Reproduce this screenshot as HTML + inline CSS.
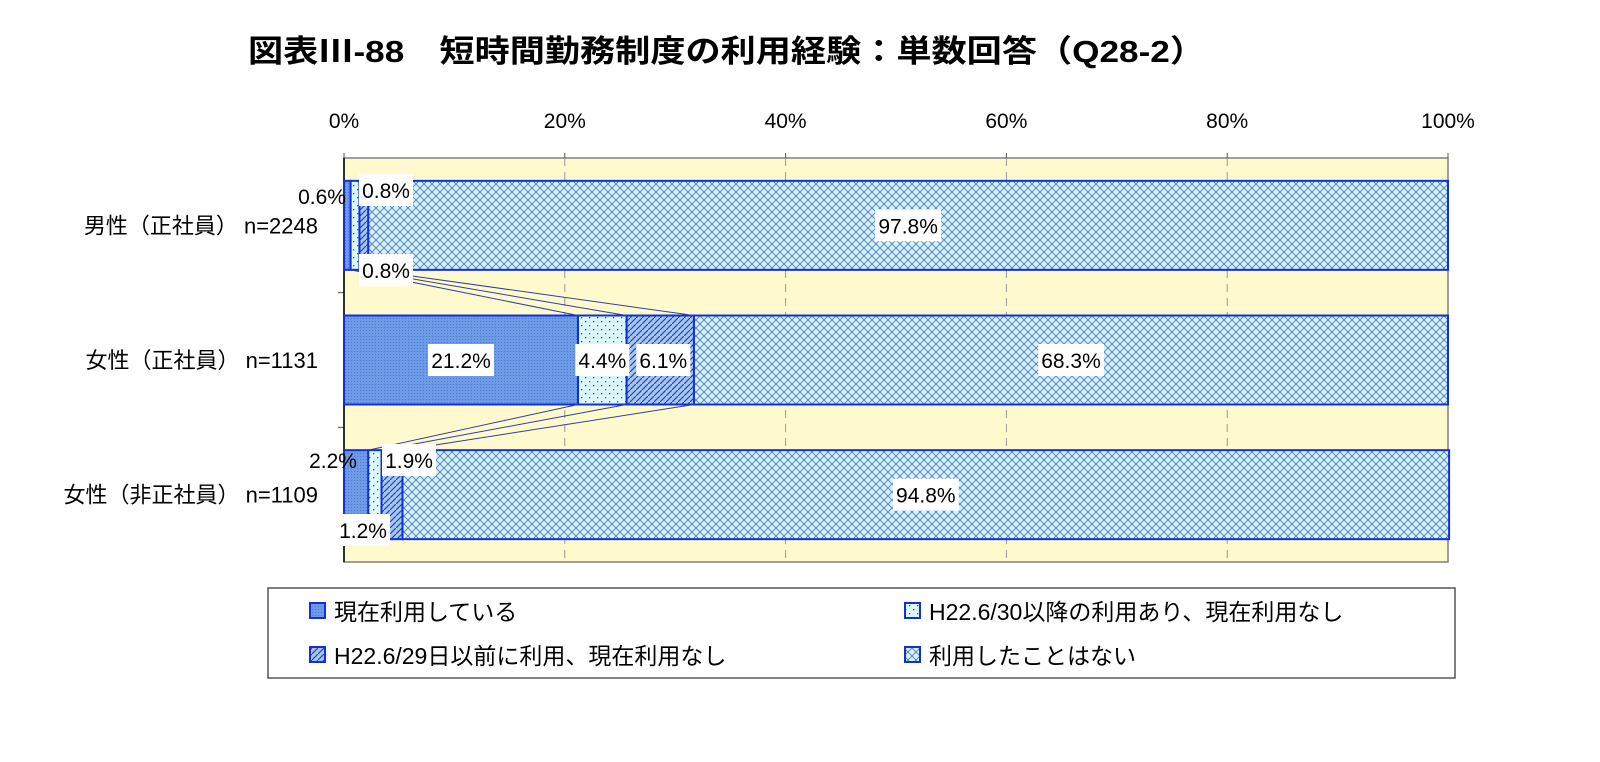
<!DOCTYPE html>
<html><head><meta charset="utf-8">
<style>
body{margin:0;background:#fff;width:1600px;height:757px;overflow:hidden;font-family:"Liberation Sans","Noto Sans CJK JP",sans-serif;}
svg text{font-family:"Liberation Sans","Noto Sans CJK JP",sans-serif;}
</style></head>
<body>
<svg id="chart" width="1600" height="757" xmlns="http://www.w3.org/2000/svg">
<defs>
<pattern id="p0" width="3" height="3" patternUnits="userSpaceOnUse"><rect width="3" height="3" fill="#6d9be6"/><rect width="1" height="1" fill="#4a78d0"/></pattern>
<pattern id="p1" width="8" height="8" patternUnits="userSpaceOnUse"><rect width="8" height="8" fill="#dcfafa"/><rect x="1" y="1" width="1.3" height="1.3" fill="#3050a0"/><rect x="5" y="5" width="1.3" height="1.3" fill="#3050a0"/></pattern>
<pattern id="p2" width="6" height="6" patternUnits="userSpaceOnUse"><rect width="6" height="6" fill="#a6c6f2"/><path d="M0 6 L6 0" stroke="#2a4aa8" stroke-width="1.2"/></pattern>
<pattern id="p3" width="8" height="8" patternUnits="userSpaceOnUse"><rect width="8" height="8" fill="#d2f4f6"/><path d="M0 0 L8 8 M8 0 L0 8" stroke="#5a78c0" stroke-width="0.9"/></pattern>
</defs>
<text x="248" y="62" font-size="31" textLength="957" lengthAdjust="spacingAndGlyphs" fill="#000" font-weight="bold">図表Ⅲ-88　短時間勤務制度の利用経験：単数回答（Q28-2）</text>
<g id="plot"></g>
<g id="legend">
<rect x="268" y="588" width="1187" height="90" fill="#fff" stroke="#555" stroke-width="1.5"/>
</g>
</svg>
<script>
const categories=["男性（正社員） n=2248","女性（正社員） n=1131","女性（非正社員） n=1109"];
const seriesNames=["現在利用している","H22.6/30以降の利用あり、現在利用なし","H22.6/29日以前に利用、現在利用なし","利用したことはない"];
const s0=[0.6,21.2,2.2];
const s1=[0.8,4.4,1.2];
const s2=[0.8,6.1,1.9];
const s3=[97.8,68.3,94.8];
const ticks=[0,20,40,60,80,100];
const NS="http://www.w3.org/2000/svg";
const plot=document.getElementById('plot');
const X0=344,X1=1448,Y0=158,Y1=562;
const x=v=>X0+(X1-X0)*v/100;
const bandH=(Y1-Y0)/3, barH=89;
const yTop=i=>Y0+bandH*i+(bandH-barH)/2;
function mk(tag,attrs,parent){const e=document.createElementNS(NS,tag);for(const k in attrs)e.setAttribute(k,attrs[k]);(parent||plot).appendChild(e);return e;}
let e=mk('rect',{x:X0,y:Y0,width:X1-X0,height:Y1-Y0,fill:'#fffacd',stroke:'#808080','stroke-width':1.5});

ticks.forEach(t=>{
 if(t>0&&t<100){const g=mk('line',{x1:x(t),x2:x(t),y1:Y0,y2:Y1,stroke:'#999','stroke-dasharray':'8,6'});}
 mk('line',{x1:x(t),x2:x(t),y1:Y0-5,y2:Y0,stroke:'#555'});
 const tl=mk('text',{x:x(t),y:128,'font-size':21,'text-anchor':'middle'});tl.textContent=t+'%';
 
});
for(let i=1;i<3;i++)mk('line',{x1:X0-6,x2:X0,y1:Y0+bandH*i,y2:Y0+bandH*i,stroke:'#555'});
mk('line',{x1:X0,x2:X0,y1:Y0,y2:Y1,stroke:'#000','stroke-width':1.5});
const series=[s0,s1,s2,s3];
const bounds=[];
categories.forEach((c,i)=>{
 const lab=mk('text',{x:318,y:yTop(i)+barH/2+8,'font-size':22,'text-anchor':'end'});lab.textContent=c;
 
 let acc=0;const b=[x(0)];
 series.forEach((s,k)=>{
  const r=mk('rect',{x:x(acc),y:yTop(i),width:x(acc+s[i])-x(acc),height:barH,fill:'url(#p'+k+')',stroke:'#1030e0','stroke-width':2});
  
  acc+=s[i];b.push(x(acc));
 });
 bounds.push(b);
});
for(let i=0;i<2;i++){for(let k=1;k<=3;k++){
 const l=mk('line',{x1:bounds[i][k],y1:yTop(i)+barH,x2:bounds[i+1][k],y2:yTop(i+1),stroke:'#3040a0','stroke-width':1});
 
}}
function lbl(txt,cx,cy,box){
 if(box){const w=txt.length*12+6;mk('rect',{x:cx-w/2,y:cy-16,width:w,height:32,fill:'#fff'});}
 const t=mk('text',{x:cx,y:cy+8,'font-size':21,'text-anchor':'middle'});t.textContent=txt;
 
}
const f=v=>v.toFixed(1)+'%';
lbl(f(s0[0]),322,196,false);
lbl(f(s1[0]),386,190,true);
lbl(f(s2[0]),386,270,true);
lbl(f(s3[0]),(bounds[0][3]+bounds[0][4])/2,yTop(0)+barH/2,true);
for(let k=0;k<4;k++)lbl(f(series[k][1]),(bounds[1][k]+bounds[1][k+1])/2+(k==2?3:0),yTop(1)+barH/2,true);
lbl(f(s0[2]),333,460,false);
lbl(f(s2[2]),409,460,true);
lbl(f(s1[2]),363,530,true);
lbl(f(s3[2]),(bounds[2][3]+bounds[2][4])/2,yTop(2)+barH/2,true);
const leg=document.getElementById('legend');
const pos=[[310,611],[905,611],[310,655],[905,655]];
seriesNames.forEach((n,k)=>{
 const g=mk('g',{},leg);
 mk('rect',{x:pos[k][0],y:pos[k][1]-8,width:15,height:15,fill:'url(#p'+k+')',stroke:'#1030e0','stroke-width':2},g);
 const t=mk('text',{x:pos[k][0]+24,y:pos[k][1]+9,'font-size':23},g);t.textContent=n;
});
</script>
</body></html>
